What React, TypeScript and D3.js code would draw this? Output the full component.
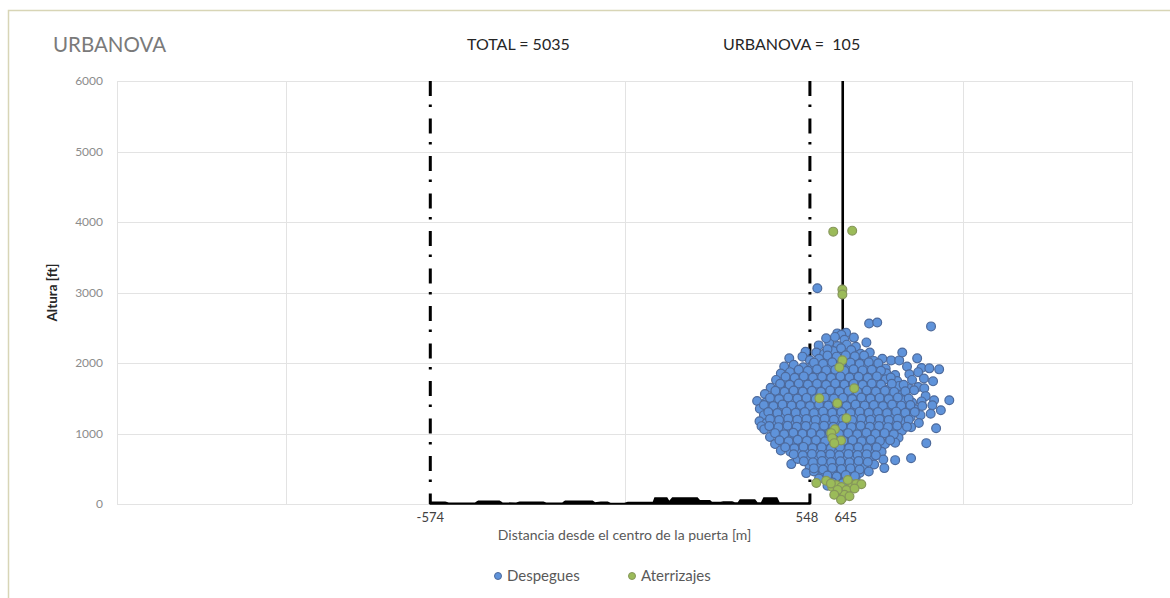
import * as d3 from "d3";

const W = 1170;
const H = 598;
const PL = 117;
const PR = 1132;
const PT = 81;
const PB = 504;

const FONT = "Lato, 'Open Sans', sans-serif";

const Y_TICKS = [0, 1000, 2000, 3000, 4000, 5000, 6000];
const X_GRID = [-1500, -1000, 0, 1000, 1500];
const LIMITES = [-574, 548];
const CENTRO = 645;
const X_LABELS = [-574, 548, 645];

// [distancia m, altura ft]
const DESPEGUES: [number, number][] = [
  [570, 3060], [723, 2561], [747, 2575], [906, 2519], [715, 2292],
  [629, 2420], [605, 2292], [655, 2430], [641, 2400],
  [596, 2350], [622, 2370], [650, 2330], [678, 2360],
  [574, 2250], [630, 2240], [657, 2260], [684, 2230],
  [535, 2160], [567, 2150], [590, 2130], [617, 2170], [644, 2140], [671, 2160], [698, 2130], [725, 2150],
  [487, 2066], [526, 2090], [548, 2040], [575, 2060], [602, 2030], [629, 2070], [656, 2050], [683, 2040],
  [710, 2070], [737, 2030], [762, 2060], [788, 2037], [812, 2037], [821, 2150], [865, 2066],
  [472, 1950], [500, 1975], [528, 1940], [555, 1965], [583, 1945], [610, 1970], [637, 1940], [664, 1960],
  [691, 1935], [718, 1965], [745, 1945], [772, 1920], [835, 1950], [878, 1930], [901, 1924], [930, 1910],
  [462, 1850], [489, 1870], [516, 1840], [543, 1865], [570, 1845], [597, 1870], [624, 1850], [651, 1835],
  [678, 1860], [705, 1840], [732, 1865], [774, 1854], [800, 1830], [842, 1840], [868, 1870],
  [448, 1760], [475, 1740], [502, 1765], [529, 1745], [556, 1770], [583, 1740], [610, 1760], [637, 1735],
  [664, 1765], [691, 1745], [718, 1760], [745, 1740], [772, 1770], [806, 1745], [850, 1760], [885, 1780], [912, 1740],
  [432, 1650], [460, 1670], [488, 1640], [515, 1665], [542, 1645], [569, 1670], [596, 1650], [623, 1640],
  [650, 1665], [677, 1650], [704, 1670], [731, 1640], [758, 1660], [785, 1645], [812, 1675], [840, 1640],
  [868, 1660], [856, 1613], [886, 1641],
  [415, 1560], [442, 1540], [469, 1565], [496, 1545], [523, 1570], [550, 1540], [577, 1560], [604, 1545],
  [631, 1570], [658, 1540], [685, 1560], [712, 1545], [739, 1570], [766, 1540], [793, 1560], [820, 1550], [890, 1530],
  [392, 1460], [418, 1440], [445, 1470], [472, 1450], [499, 1430], [526, 1460], [553, 1445], [580, 1470],
  [607, 1450], [634, 1435], [661, 1460], [688, 1445], [715, 1470], [742, 1440], [769, 1460], [796, 1450],
  [823, 1470], [850, 1440], [878, 1455], [915, 1472], [960, 1472],
  [400, 1350], [427, 1370], [454, 1340], [481, 1365], [508, 1345], [535, 1370], [562, 1350], [589, 1340],
  [616, 1365], [643, 1345], [670, 1370], [697, 1340], [724, 1360], [751, 1345], [778, 1370], [805, 1340],
  [832, 1360], [860, 1345], [910, 1400], [935, 1330],
  [412, 1260], [440, 1240], [467, 1265], [494, 1245], [521, 1270], [548, 1250], [575, 1235], [602, 1260],
  [629, 1245], [656, 1270], [683, 1250], [710, 1240], [737, 1265], [764, 1245], [791, 1270], [818, 1250],
  [846, 1235], [875, 1260], [905, 1280],
  [399, 1174], [420, 1150], [450, 1130], [478, 1160], [505, 1140], [532, 1165], [559, 1145], [586, 1170],
  [613, 1150], [640, 1135], [667, 1160], [694, 1145], [721, 1170], [748, 1140], [775, 1160], [802, 1145],
  [830, 1170], [870, 1150],
  [405, 1104], [413, 1060], [440, 1040], [468, 1065], [495, 1045], [522, 1070], [549, 1050], [576, 1035],
  [603, 1060], [630, 1045], [657, 1070], [684, 1050], [711, 1040], [738, 1065], [765, 1045], [792, 1070],
  [820, 1040], [847, 1090], [921, 1075],
  [430, 950], [458, 970], [485, 945], [512, 965], [539, 940], [566, 960], [593, 950], [620, 970],
  [647, 945], [674, 965], [701, 940], [728, 960], [755, 950], [782, 970], [810, 940],
  [445, 850], [472, 870], [500, 845], [527, 865], [554, 840], [581, 860], [608, 850], [635, 870],
  [662, 845], [689, 865], [716, 840], [743, 860], [770, 850], [800, 870], [892, 863],
  [462, 760], [490, 740], [517, 765], [544, 745], [571, 770], [598, 750], [625, 735], [652, 760],
  [679, 745], [706, 770], [733, 750], [760, 740], [847, 650],
  [493, 566], [512, 640], [540, 665], [567, 645], [594, 670], [621, 650], [648, 640], [675, 665],
  [702, 645], [729, 660], [765, 630], [800, 622],
  [547, 540], [574, 565], [601, 545], [628, 560], [655, 540], [682, 565], [709, 545], [738, 560], [768, 509],
  [537, 438], [560, 460], [587, 445], [614, 470], [641, 450], [668, 465], [695, 440], [722, 460],
  [575, 360], [602, 345], [629, 365], [656, 340], [683, 360],
  [600, 260], [654, 265], [675, 240],
  // núcleo denso
  [600, 2195], [640, 2210], [670, 2185],
  [600, 2105], [627, 2090], [654, 2110], [681, 2095], [708, 2105],
  [560, 2005], [587, 1990], [614, 2010], [641, 1995], [668, 2005], [695, 1990], [722, 2010], [750, 1995],
  [515, 1905], [542, 1890], [569, 1910], [596, 1895], [623, 1905], [650, 1890], [677, 1910], [704, 1895],
  [731, 1905], [758, 1890],
  [476, 1805], [503, 1790], [530, 1810], [557, 1795], [584, 1805], [611, 1790], [638, 1810], [665, 1795],
  [692, 1805], [719, 1790], [746, 1810], [787, 1795],
  [460, 1705], [488, 1690], [515, 1710], [542, 1695], [569, 1705], [596, 1690], [623, 1710], [650, 1695],
  [677, 1705], [704, 1690], [731, 1710], [758, 1695], [790, 1705], [825, 1690],
  [446, 1605], [473, 1590], [500, 1610], [527, 1595], [554, 1605], [581, 1590], [608, 1610], [635, 1595],
  [662, 1605], [689, 1590], [716, 1610], [743, 1595], [770, 1605], [797, 1590], [830, 1600],
  [430, 1505], [457, 1490], [484, 1510], [511, 1495], [538, 1505], [565, 1490], [592, 1510], [619, 1495],
  [646, 1505], [673, 1490], [700, 1510], [727, 1495], [754, 1505], [781, 1490], [808, 1510], [840, 1495],
  [412, 1405], [440, 1390], [467, 1410], [494, 1395], [521, 1405], [548, 1390], [575, 1410], [602, 1395],
  [629, 1405], [656, 1390], [683, 1410], [710, 1395], [737, 1405], [764, 1390], [791, 1410], [818, 1395],
  [845, 1405], [880, 1390],
  [425, 1305], [452, 1290], [479, 1310], [506, 1295], [533, 1305], [560, 1290], [587, 1310], [614, 1295],
  [641, 1305], [668, 1290], [695, 1310], [722, 1295], [749, 1305], [776, 1290], [803, 1310], [830, 1295], [858, 1305],
  [430, 1205], [457, 1190], [484, 1210], [511, 1195], [538, 1205], [565, 1190], [592, 1210], [619, 1195],
  [646, 1205], [673, 1190], [700, 1210], [727, 1195], [754, 1205], [781, 1190], [808, 1210], [840, 1195],
  [428, 1105], [455, 1090], [482, 1110], [509, 1095], [536, 1105], [563, 1090], [590, 1110], [617, 1095],
  [644, 1105], [671, 1090], [698, 1110], [725, 1095], [752, 1105], [779, 1090], [806, 1110], [835, 1095],
  [445, 1005], [472, 990], [499, 1010], [526, 995], [553, 1005], [580, 990], [607, 1010], [634, 995],
  [661, 1005], [688, 990], [715, 1010], [742, 995], [769, 1005], [796, 990],
  [458, 905], [485, 890], [512, 910], [539, 895], [566, 905], [593, 890], [620, 910], [647, 895],
  [674, 905], [701, 890], [728, 910], [755, 895], [785, 905],
  [475, 805], [502, 790], [529, 810], [556, 795], [583, 805], [610, 790], [637, 810], [664, 795],
  [691, 805], [718, 790], [745, 805],
  [500, 705], [527, 690], [554, 710], [581, 695], [608, 705], [635, 690], [662, 710], [689, 695],
  [716, 705], [743, 690],
  [530, 605], [557, 590], [584, 610], [611, 595], [638, 605], [665, 590], [692, 610], [719, 595],
  [560, 505], [587, 490], [614, 510], [641, 495], [668, 505], [695, 490],
  [600, 405], [627, 390], [654, 410], [681, 395],
  [615, 305], [645, 295],
];

const ATERRIZAJES: [number, number][] = [
  [617, 3863], [673, 3877], [644, 3042], [644, 2972], [644, 2038], [635, 1939],
  [679, 1641], [576, 1500], [629, 1429], [656, 1217], [622, 1060], [611, 1005],
  [614, 934], [640, 900], [620, 863],
  [567, 297], [614, 241], [626, 269], [641, 241], [673, 269], [685, 283],
  [635, 156], [656, 198], [644, 85], [650, 130], [630, 200],
  [596, 330], [660, 340], [700, 280], [620, 130], [665, 110], [640, 60], [610, 290], [680, 220],
];

// perfil negro a ras de suelo entre los límites
const PERFIL: [number, number][] = [
  [-574, 25], [-530, 25], [-520, 10], [-440, 15], [-432, 40], [-370, 40], [-362, 15],
  [-320, 10], [-310, 25], [-240, 25], [-232, 12], [-182, 15], [-175, 40], [-95, 40],
  [-88, 15], [-70, 25], [-50, 25], [-42, 8], [0, 8], [10, 20], [85, 20], [90, 85],
  [125, 85], [132, 30], [142, 85], [215, 85], [222, 45], [252, 45], [258, 20],
  [285, 20], [292, 30], [318, 30], [325, 15], [336, 15], [342, 55], [385, 55],
  [392, 15], [405, 15], [412, 85], [450, 85], [457, 15], [543, 15], [548, 25],
];

export default function App() {
  const x = d3.scaleLinear().domain([-1500, 1500]).range([PL, PR]);
  const y = d3.scaleLinear().domain([0, 6000]).range([PB, PT]);

  const area = d3
    .area<[number, number]>()
    .x((d) => x(d[0]))
    .y0(y(0))
    .y1((d) => y(d[1]));

  return (
    <svg
      width={W}
      height={H}
      style={{ position: "absolute", left: 0, top: 0, background: "#fff" }}
      fontFamily={FONT}
    >
      <rect x={8.5} y={10.5} width={W + 10} height={H + 10} fill="#fff" stroke="#d8d5b6" strokeWidth={1.5} />

      <text x={53} y={52} fontSize={20.5} fill="#7a7a7a">URBANOVA</text>
      <text x={467} y={50} fontSize={16} fill="#262626">TOTAL = 5035</text>
      <text x={723} y={50} fontSize={16} fill="#262626">URBANOVA =&#160; 105</text>

      <g stroke="#e3e3e3" strokeWidth={1}>
        {Y_TICKS.map((t) => (
          <line key={`h${t}`} x1={PL} x2={PR} y1={Math.round(y(t)) + 0.5} y2={Math.round(y(t)) + 0.5} />
        ))}
        {X_GRID.map((t) => (
          <line key={`v${t}`} x1={Math.round(x(t)) + 0.5} x2={Math.round(x(t)) + 0.5} y1={PT} y2={PB} />
        ))}
      </g>

      <g fontSize={12} fill="#8c8c8c" textAnchor="end">
        {Y_TICKS.map((t) => (
          <text key={t} x={103} y={y(t)} dy="0.35em">{t}</text>
        ))}
      </g>

      <text
        transform={`translate(57,${(PT + PB) / 2}) rotate(-90)`}
        textAnchor="middle"
        fontSize={13.5}
        fontWeight="bold"
        fill="#262626"
      >
        Altura [ft]
      </text>

      <path d={area(PERFIL) ?? ""} fill="#000" stroke="#000" strokeWidth={1.5} />

      {LIMITES.map((v) => (
        <line
          key={v}
          x1={x(v)}
          x2={x(v)}
          y1={y(6000)}
          y2={y(0)}
          stroke="#000"
          strokeWidth={3}
          strokeDasharray="15,8.5,2.5,11.5"
        />
      ))}
      <line x1={x(CENTRO)} x2={x(CENTRO)} y1={y(6000)} y2={y(0)} stroke="#000" strokeWidth={2.6} />

      <g fill="#5f93da" stroke="#4d6a9c" strokeWidth={1.2}>
        {DESPEGUES.map((d, i) => (
          <circle key={i} cx={x(d[0])} cy={y(d[1])} r={4.4} />
        ))}
      </g>
      <g fill="#9bbb59" stroke="#86965a" strokeWidth={1.2}>
        {ATERRIZAJES.map((d, i) => (
          <circle key={i} cx={x(d[0])} cy={y(d[1])} r={4.4} />
        ))}
      </g>

      <g fontSize={13} fill="#404040" textAnchor="middle">
        {X_LABELS.map((v, i) => (
          <text key={v} x={x(v) + (i === 1 ? -3 : i === 2 ? 3 : 0)} y={522}>
            {v}
          </text>
        ))}
      </g>

      <text x={(PL + PR) / 2} y={540} textAnchor="middle" fontSize={14} fill="#595959">
        Distancia desde el centro de la puerta [m]
      </text>

      <g fontSize={15} fill="#595959">
        <circle cx={498} cy={576} r={3.5} fill="#5f93da" stroke="#4d6a9c" strokeWidth={1} />
        <text x={507} y={581}>Despegues</text>
        <circle cx={632} cy={576} r={3.5} fill="#9bbb59" stroke="#86965a" strokeWidth={1} />
        <text x={641} y={581}>Aterrizajes</text>
      </g>
    </svg>
  );
}
